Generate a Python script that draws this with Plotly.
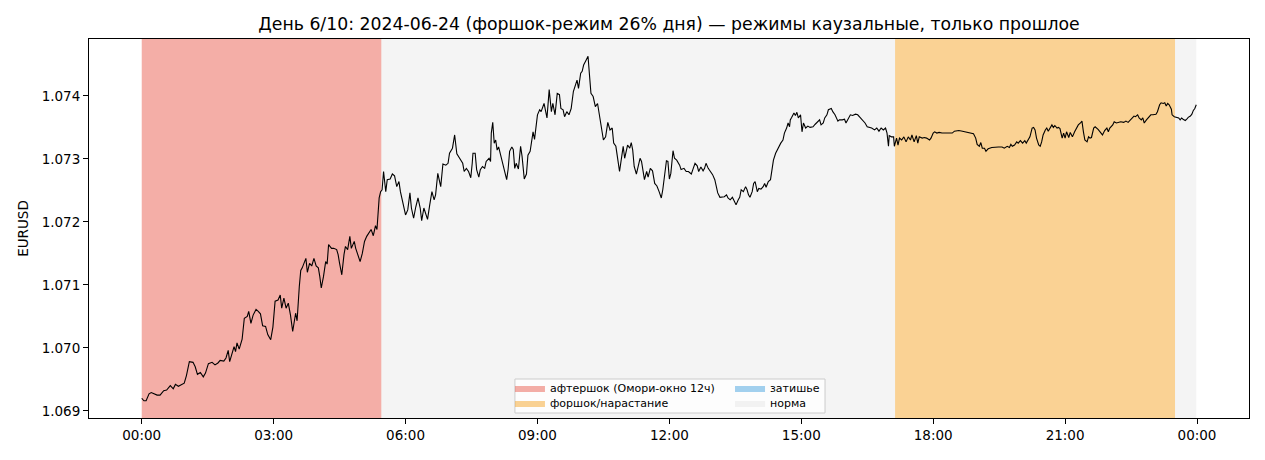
import pandas as pd
import plotly.graph_objects as go

# minutes after 00:00 on 2024-06-24
minutes = [
    0, 3, 6, 10, 13, 16, 21, 25, 30, 34, 39, 43, 46, 50, 54, 58, 61, 65, 70, 73,
    76, 80, 84, 87, 91, 96, 100, 104, 107, 112, 115, 118, 120, 123, 126, 128, 130, 133, 137, 140,
    144, 146, 149, 152, 156, 159, 162, 165, 169, 172, 176, 179, 182, 186, 189, 191, 194, 197, 200, 203,
    206, 210, 212, 215, 217, 219, 221, 224, 226, 229, 232, 235, 238, 241, 243, 245, 248, 251, 253, 255,
    259, 262, 266, 268, 270, 273, 276, 278, 281, 284, 286, 290, 292, 295, 298, 301, 304, 307, 310, 313,
    316, 319, 321, 324, 326, 328, 330, 333, 335, 339, 342, 345, 348, 351, 353, 356, 358, 360, 363, 366,
    368, 371, 374, 377, 380, 382, 385, 388, 390, 393, 396, 399, 401, 404, 408, 411, 415, 418, 420, 424,
    427, 430, 434, 438, 440, 443, 446, 449, 451, 452, 455, 457, 460, 462, 465, 468, 470, 474, 476, 477,
    479, 481, 483, 485, 487, 490, 493, 495, 498, 500, 502, 505, 507, 509, 511, 514, 517, 519, 522, 525,
    527, 530, 532, 534, 536, 540, 543, 545, 549, 551, 553, 556, 559, 561, 564, 567, 570, 572, 575, 577,
    580, 583, 586, 589, 592, 594, 596, 599, 601, 603, 606, 609, 611, 613, 616, 619, 622, 625, 628, 630,
    633, 636, 639, 642, 644, 647, 650, 652, 655, 657, 659, 663, 666, 668, 670, 672, 675, 677, 680, 682,
    684, 686, 689, 691, 694, 697, 700, 703, 706, 709, 711, 714, 716, 718, 720, 722, 725, 727, 730, 734,
    736, 740, 743, 746, 750, 752, 755, 758, 760, 763, 766, 768, 770, 773, 776, 779, 782, 784, 786, 789,
    792, 795, 798, 800, 803, 806, 809, 811, 814, 816, 818, 821, 824, 826, 828, 830, 833, 835, 837, 840,
    842, 845, 848, 850, 852, 855, 858, 860, 862, 865, 867, 869, 872, 875, 877, 880, 882, 884, 885, 887,
    890, 892, 894, 896, 899, 901, 903, 906, 909, 912, 916, 919, 922, 925, 927, 930, 932, 935, 937, 941,
    943, 946, 950, 952, 956, 959, 961, 965, 967, 970, 974, 977, 981, 984, 987, 990, 993, 996, 1000, 1003,
    1006, 1009, 1012, 1015, 1017, 1019, 1020, 1023, 1026, 1027, 1030, 1032, 1034, 1037, 1040, 1043, 1046, 1049, 1051, 1054,
    1057, 1059, 1061, 1065, 1068, 1071, 1075, 1077, 1080, 1082, 1085, 1088, 1092, 1095, 1101, 1106, 1109, 1115, 1120, 1125,
    1131, 1135, 1138, 1140, 1143, 1145, 1147, 1150, 1152, 1155, 1160, 1165, 1169, 1174, 1177, 1181, 1184, 1186, 1188, 1191,
    1194, 1196, 1199, 1202, 1205, 1207, 1209, 1212, 1215, 1217, 1219, 1221, 1224, 1226, 1228, 1230, 1233, 1235, 1237, 1240,
    1242, 1244, 1246, 1249, 1251, 1253, 1256, 1258, 1260, 1262, 1265, 1267, 1270, 1273, 1276, 1278, 1281, 1283, 1285, 1287,
    1290, 1292, 1294, 1296, 1299, 1301, 1305, 1308, 1311, 1314, 1317, 1319, 1321, 1325, 1327, 1330, 1333, 1336, 1340, 1343,
    1346, 1349, 1351, 1354, 1356, 1359, 1361, 1364, 1366, 1368, 1371, 1374, 1377, 1380, 1384, 1386, 1389, 1391, 1394, 1396,
    1398, 1400, 1402, 1405, 1406, 1409, 1411, 1415, 1417, 1419, 1421, 1424, 1426, 1428, 1431, 1433, 1435, 1437, 1439,
]

eurusd = [
    1.06920, 1.06916, 1.06916, 1.06927, 1.06929, 1.06927, 1.06925, 1.06925, 1.06932, 1.06933,
    1.06940, 1.06935, 1.06942, 1.06939, 1.06941, 1.06944, 1.06956, 1.06978, 1.06977, 1.06970,
    1.06958, 1.06961, 1.06954, 1.06960, 1.06975, 1.06977, 1.06973, 1.06976, 1.06980, 1.06979,
    1.06984, 1.06996, 1.06978, 1.06992, 1.07002, 1.06994, 1.07008, 1.06998, 1.07014, 1.07047,
    1.07050, 1.07058, 1.07039, 1.07052, 1.07061, 1.07058, 1.07054, 1.07035, 1.07034, 1.07021,
    1.07013, 1.07033, 1.07074, 1.07076, 1.07084, 1.07063, 1.07079, 1.07063, 1.07071, 1.07052,
    1.07026, 1.07055, 1.07043, 1.07097, 1.07123, 1.07127, 1.07133, 1.07142, 1.07120, 1.07134,
    1.07130, 1.07142, 1.07130, 1.07127, 1.07113, 1.07095, 1.07113, 1.07137, 1.07133, 1.07164,
    1.07158, 1.07158, 1.07156, 1.07148, 1.07134, 1.07116, 1.07148, 1.07161, 1.07156, 1.07177,
    1.07158, 1.07169, 1.07158, 1.07148, 1.07137, 1.07150, 1.07169, 1.07177, 1.07183, 1.07188,
    1.07178, 1.07194, 1.07188, 1.07238, 1.07248, 1.07251, 1.07280, 1.07248, 1.07267, 1.07268,
    1.07276, 1.07273, 1.07256, 1.07264, 1.07248, 1.07232, 1.07224, 1.07211, 1.07219, 1.07246,
    1.07222, 1.07206, 1.07224, 1.07238, 1.07222, 1.07202, 1.07222, 1.07210, 1.07204, 1.07227,
    1.07248, 1.07235, 1.07243, 1.07277, 1.07256, 1.07292, 1.07290, 1.07293, 1.07309, 1.07317,
    1.07338, 1.07308, 1.07301, 1.07293, 1.07280, 1.07285, 1.07280, 1.07270, 1.07293, 1.07309,
    1.07309, 1.07283, 1.07271, 1.07283, 1.07288, 1.07285, 1.07296, 1.07301, 1.07296, 1.07341,
    1.07358, 1.07325, 1.07330, 1.07314, 1.07319, 1.07304, 1.07290, 1.07283, 1.07267, 1.07284,
    1.07312, 1.07319, 1.07315, 1.07285, 1.07293, 1.07284, 1.07320, 1.07304, 1.07268, 1.07276,
    1.07306, 1.07312, 1.07330, 1.07343, 1.07331, 1.07370, 1.07378, 1.07375, 1.07388, 1.07378,
    1.07365, 1.07410, 1.07375, 1.07388, 1.07370, 1.07404, 1.07402, 1.07380, 1.07378, 1.07367,
    1.07375, 1.07370, 1.07380, 1.07407, 1.07420, 1.07425, 1.07412, 1.07436, 1.07439, 1.07449,
    1.07456, 1.07463, 1.07433, 1.07404, 1.07399, 1.07383, 1.07388, 1.07365, 1.07346, 1.07330,
    1.07335, 1.07358, 1.07346, 1.07349, 1.07325, 1.07320, 1.07296, 1.07280, 1.07304, 1.07320,
    1.07301, 1.07322, 1.07317, 1.07326, 1.07314, 1.07288, 1.07276, 1.07285, 1.07301, 1.07296,
    1.07280, 1.07267, 1.07280, 1.07271, 1.07285, 1.07281, 1.07261, 1.07257, 1.07248, 1.07238,
    1.07251, 1.07280, 1.07297, 1.07296, 1.07268, 1.07277, 1.07313, 1.07301, 1.07298, 1.07290,
    1.07283, 1.07285, 1.07280, 1.07280, 1.07276, 1.07283, 1.07293, 1.07289, 1.07280, 1.07287,
    1.07281, 1.07285, 1.07293, 1.07285, 1.07280, 1.07275, 1.07267, 1.07255, 1.07246, 1.07239,
    1.07239, 1.07240, 1.07243, 1.07238, 1.07235, 1.07239, 1.07232, 1.07227, 1.07235, 1.07239,
    1.07251, 1.07248, 1.07256, 1.07251, 1.07243, 1.07239, 1.07248, 1.07261, 1.07264, 1.07248,
    1.07253, 1.07252, 1.07256, 1.07261, 1.07255, 1.07264, 1.07267, 1.07283, 1.07298, 1.07309,
    1.07314, 1.07320, 1.07325, 1.07330, 1.07341, 1.07349, 1.07357, 1.07351, 1.07362, 1.07366,
    1.07373, 1.07369, 1.07374, 1.07365, 1.07370, 1.07343, 1.07357, 1.07349, 1.07352, 1.07350,
    1.07351, 1.07355, 1.07359, 1.07362, 1.07354, 1.07357, 1.07365, 1.07370, 1.07378, 1.07380,
    1.07375, 1.07370, 1.07360, 1.07362, 1.07362, 1.07363, 1.07357, 1.07365, 1.07370, 1.07369,
    1.07371, 1.07370, 1.07365, 1.07360, 1.07357, 1.07351, 1.07350, 1.07349, 1.07346, 1.07349,
    1.07344, 1.07349, 1.07346, 1.07349, 1.07341, 1.07320, 1.07337, 1.07335, 1.07335, 1.07320,
    1.07333, 1.07322, 1.07333, 1.07330, 1.07335, 1.07327, 1.07335, 1.07330, 1.07338, 1.07327,
    1.07337, 1.07325, 1.07335, 1.07333, 1.07334, 1.07333, 1.07330, 1.07333, 1.07341, 1.07343,
    1.07341, 1.07342, 1.07341, 1.07341, 1.07342, 1.07341, 1.07344, 1.07345, 1.07344, 1.07343,
    1.07341, 1.07340, 1.07333, 1.07323, 1.07320, 1.07326, 1.07317, 1.07317, 1.07312, 1.07316,
    1.07318, 1.07319, 1.07319, 1.07319, 1.07317, 1.07320, 1.07318, 1.07323, 1.07320, 1.07322,
    1.07327, 1.07325, 1.07329, 1.07325, 1.07329, 1.07325, 1.07330, 1.07335, 1.07349, 1.07350,
    1.07346, 1.07333, 1.07322, 1.07320, 1.07327, 1.07338, 1.07346, 1.07349, 1.07344, 1.07351,
    1.07354, 1.07350, 1.07353, 1.07349, 1.07350, 1.07348, 1.07333, 1.07341, 1.07333, 1.07343,
    1.07334, 1.07342, 1.07335, 1.07343, 1.07349, 1.07354, 1.07357, 1.07360, 1.07343, 1.07330,
    1.07327, 1.07335, 1.07333, 1.07334, 1.07349, 1.07351, 1.07347, 1.07343, 1.07338, 1.07345,
    1.07349, 1.07343, 1.07349, 1.07354, 1.07359, 1.07357, 1.07358, 1.07359, 1.07358, 1.07360,
    1.07358, 1.07362, 1.07363, 1.07368, 1.07367, 1.07370, 1.07365, 1.07362, 1.07365, 1.07357,
    1.07362, 1.07366, 1.07370, 1.07370, 1.07371, 1.07375, 1.07386, 1.07389, 1.07388, 1.07389,
    1.07384, 1.07388, 1.07386, 1.07379, 1.07370, 1.07367, 1.07366, 1.07365, 1.07362, 1.07365,
    1.07363, 1.07361, 1.07363, 1.07366, 1.07368, 1.07371, 1.07377, 1.07380, 1.07386,
]

# regime spans (causal regime labels for the day)
regime_kind = ["aftershock", "norm", "foreshock", "norm"]
regime_start = ["00:00", "05:27", "17:08", "23:30"]
regime_end = ["05:27", "17:08", "23:30", "23:59"]

legend_kinds = ["aftershock", "foreshock", "quiet", "norm"]
legend_labels = ["афтершок (Омори-окно 12ч)", "форшок/нарастание", "затишье", "норма"]

day = "2024-06-24"
title = "День 6/10: 2024-06-24 (форшок-режим 26% дня) — режимы каузальные, только прошлое"

colors = {
    "aftershock": "rgba(231,76,60,0.45)",
    "foreshock": "rgba(243,156,18,0.45)",
    "quiet": "rgba(52,152,219,0.45)",
    "norm": "rgba(205,205,205,0.22)",
}
# one small legend per entry, laid out as matplotlib's 2-column legend
legend_slot = {"aftershock": ("legend", 0.3629, 0.0792), "foreshock": ("legend2", 0.3629, 0.0396),
               "quiet": ("legend3", 0.5526, 0.0792), "norm": ("legend4", 0.5526, 0.0396)}

t = pd.Timestamp(day) + pd.to_timedelta(minutes, unit="m")

# matplotlib-like 5% autoscale margins
ymin, ymax = min(eurusd), max(eurusd)
ypad = 0.05 * (ymax - ymin)
ylo, yhi = ymin - ypad, ymax + ypad
xpad = 0.05 * (t[-1] - t[0])
xlo, xhi = t[0] - xpad, t[-1] + xpad

fig = go.Figure()

for kind, label in zip(legend_kinds, legend_labels):
    xs, ys = [], []
    for k, s, e in zip(regime_kind, regime_start, regime_end):
        if k != kind:
            continue
        s = pd.Timestamp(day + " " + s)
        e = pd.Timestamp(day + " " + e)
        xs += [s, s, e, e, s, None]
        ys += [ylo, yhi, yhi, ylo, ylo, None]
    if not xs:
        xs, ys = [None], [None]
    fig.add_trace(go.Scatter(x=xs, y=ys, mode="lines", fill="toself",
                             fillcolor=colors[kind], line=dict(color=colors[kind], width=0),
                             name=label, legend=legend_slot[kind][0], hoverinfo="skip"))

fig.add_trace(go.Scatter(x=t, y=eurusd, mode="lines", line=dict(color="black", width=1.1),
                         showlegend=False, name="EURUSD"))

# legend frame (the four entries share one box)
fig.add_shape(type="rect", xref="paper", yref="paper", x0=0.3672, x1=0.6345, y0=0.0132, y1=0.1029,
              fillcolor="rgba(255,255,255,0.8)", line=dict(color="#cccccc", width=1), layer="above")

fig.update_xaxes(range=[xlo, xhi], tickformat="%H:%M", dtick=3 * 3600 * 1000, tick0=day + " 00:00",
                 showgrid=False, zeroline=False, showline=True, linecolor="black", linewidth=1,
                 mirror=True, ticks="outside", ticklen=5, tickcolor="black",
                 tickfont=dict(size=13.5, color="black"))
fig.update_yaxes(range=[ylo, yhi], tickformat=".3f", dtick=0.001, tick0=1.069,
                 showgrid=False, zeroline=False, showline=True, linecolor="black", linewidth=1,
                 mirror=True, ticks="outside", ticklen=5, tickcolor="black",
                 tickfont=dict(size=13.5, color="black"),
                 title=dict(text="EURUSD", font=dict(size=13.5, color="black"), standoff=9))

legends = {}
for kind in legend_kinds:
    name, lx, ly = legend_slot[kind]
    legends[name] = dict(x=lx, y=ly, xanchor="left", yanchor="middle", bgcolor="rgba(0,0,0,0)",
                         borderwidth=0, font=dict(size=11, color="black"))

# page body adds ~8px offset, so margins are shifted to land the axes where the reference has them
fig.update_layout(
    width=1265, height=460,
    margin=dict(l=81, r=24, t=31, b=50),
    paper_bgcolor="white", plot_bgcolor="white",
    font=dict(family="DejaVu Sans", color="black"),
    title=dict(text=title, x=0.5, xref="paper", xanchor="center", y=0.9652, yref="container",
               yanchor="middle", font=dict(size=17.3, color="black")),
    **legends,
)

fig.write_html("out.html")
